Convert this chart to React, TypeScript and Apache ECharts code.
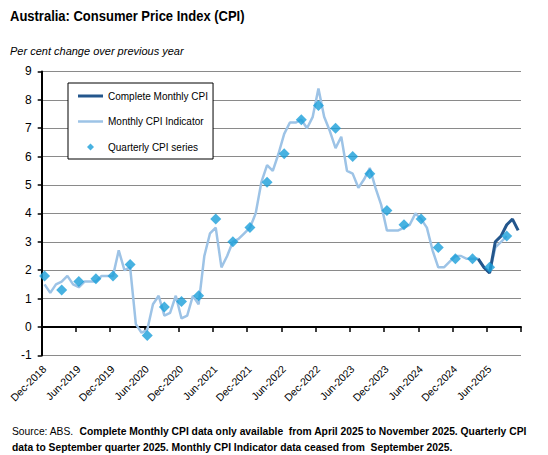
import React, { useEffect, useRef } from "react";
import * as echarts from "echarts";

const MONTH_NAMES = ["Jan", "Feb", "Mar", "Apr", "May", "Jun", "Jul", "Aug", "Sep", "Oct", "Nov", "Dec"];
const FIRST_YEAR = 2018;
const FIRST_MONTH = 11; // December
const MONTH_COUNT = 84; // Dec-2018 .. Nov-2025

const categories: string[] = [];
for (let k = 0; k < MONTH_COUNT; k++) {
  const m = (FIRST_MONTH + k) % 12;
  const y = FIRST_YEAR + Math.floor((FIRST_MONTH + k) / 12);
  categories.push(`${MONTH_NAMES[m]}-${y}`);
}

// Monthly CPI Indicator, Dec-2018 .. Sep-2025
const indicatorValues = [
  1.5, 1.2, 1.5, 1.6, 1.8, 1.5, 1.4, 1.6, 1.6, 1.6, 1.8, 1.8,
  1.8, 2.7, 2.0, 2.1, 0.1, -0.2, -0.1, 0.8, 1.1, 0.4, 0.5, 1.1,
  0.3, 0.4, 1.1, 0.8, 2.5, 3.3, 3.5, 2.1, 2.5, 3.0, 3.1, 3.3,
  3.5, 4.0, 5.1, 5.7, 5.5, 6.1, 6.8, 7.2, 7.2, 7.3, 7.0, 7.4,
  8.4, 7.4, 6.9, 6.3, 6.7, 5.5, 5.4, 4.9, 5.2, 5.6, 4.9, 4.3,
  3.4, 3.4, 3.4, 3.5, 3.6, 4.0, 3.8, 3.5, 2.7, 2.1, 2.1, 2.3,
  2.5, 2.5, 2.4, 2.4, 2.4, 2.1, 1.9, 2.8, 3.0, 3.2,
];

// Complete Monthly CPI, Apr-2025 .. Nov-2025
const completeStart = "Apr-2025";
const completeValues = [2.4, 2.1, 1.9, 3.0, 3.2, 3.6, 3.8, 3.4];

// Quarterly CPI series
const quarterLabels = [
  "Dec-2018", "Mar-2019", "Jun-2019", "Sep-2019", "Dec-2019", "Mar-2020", "Jun-2020",
  "Sep-2020", "Dec-2020", "Mar-2021", "Jun-2021", "Sep-2021", "Dec-2021", "Mar-2022",
  "Jun-2022", "Sep-2022", "Dec-2022", "Mar-2023", "Jun-2023", "Sep-2023", "Dec-2023",
  "Mar-2024", "Jun-2024", "Sep-2024", "Dec-2024", "Mar-2025", "Jun-2025", "Sep-2025",
];
const quarterValues = [
  1.8, 1.3, 1.6, 1.7, 1.8, 2.2, -0.3,
  0.7, 0.9, 1.1, 3.8, 3.0, 3.5, 5.1,
  6.1, 7.3, 7.8, 7.0, 6.0, 5.4, 4.1,
  3.6, 3.8, 2.8, 2.4, 2.4, 2.1, 3.2,
];

const yTicks = { min: -1, max: 9, interval: 1 };

const TITLE = "Australia: Consumer Price Index (CPI)";
const SUBTITLE = "Per cent change over previous year";
const NOTE_SOURCE = "Source: ABS.  ";
const NOTE_LINE1 = "Complete Monthly CPI data only available  from April 2025 to November 2025. Quarterly CPI";
const NOTE_LINE2 = "data to September quarter 2025. Monthly CPI Indicator data ceased from  September 2025.";

const SANS = "'Liberation Sans', Arial, sans-serif";

// legend icons (the leading moves fix the icon box to 25x8 so shapes are not stretched)
const ICON_DARK = "path://M0,0M25,8M0,2.5L25,2.5L25,5.5L0,5.5Z";
const ICON_LIGHT = "path://M0,0M25,8M0,2.75L25,2.75L25,5.25L0,5.25Z";
const ICON_DIAMOND = "path://M0,0M25,8M12.5,0.5L16,4L12.5,7.5L9,4Z";

export default function App() {
  const ref = useRef<HTMLDivElement>(null);

  useEffect(() => {
    if (!ref.current) return;
    const chart = echarts.init(ref.current, undefined, { renderer: "svg" });

    const indicatorData = categories.map((_, i) => (i < indicatorValues.length ? indicatorValues[i] : null));
    const cStart = categories.indexOf(completeStart);
    const completeData = categories.map((_, i) =>
      i >= cStart && i < cStart + completeValues.length ? completeValues[i - cStart] : null
    );
    const quarterData = quarterLabels.map((l, i) => [l, quarterValues[i]]);

    chart.setOption({
      animation: false,
      backgroundColor: "#fff",
      grid: { left: 41.7, right: 27, top: 71.4, bottom: 99.6, containLabel: false },
      legend: {
        orient: "vertical",
        left: 68,
        top: 83,
        padding: [8, 5, 7, 10],
        itemGap: 15.5,
        itemWidth: 25,
        itemHeight: 8,
        backgroundColor: "#fff",
        borderColor: "#000",
        borderWidth: 1,
        textStyle: { fontSize: 10, color: "#000", fontFamily: SANS },
        data: [
          { name: "Complete Monthly CPI", icon: ICON_DARK },
          { name: "Monthly CPI Indicator", icon: ICON_LIGHT },
          { name: "Quarterly CPI series", icon: ICON_DIAMOND },
        ],
      },
      xAxis: [
        {
          type: "category",
          data: categories,
          boundaryGap: true,
          position: "bottom",
          axisLine: { show: false, onZero: false },
          axisTick: { show: false },
          splitLine: { show: false },
          axisLabel: {
            interval: 5,
            rotate: 45,
            fontSize: 10.5,
            color: "#000",
            margin: 12,
            fontFamily: SANS,
          },
        },
        {
          type: "category",
          data: categories,
          boundaryGap: true,
          position: "bottom",
          axisLine: { show: true, onZero: true, lineStyle: { color: "#000", width: 2 } },
          axisTick: { show: true, interval: 5, length: 5, lineStyle: { color: "#000", width: 1.5 } },
          axisLabel: { show: false },
          splitLine: { show: false },
        },
      ],
      yAxis: {
        type: "value",
        min: yTicks.min,
        max: yTicks.max,
        interval: yTicks.interval,
        axisLine: { show: true, onZero: false, lineStyle: { color: "#000", width: 2 } },
        axisTick: { show: true, length: 4, lineStyle: { color: "#000", width: 1.5 } },
        splitLine: { show: true, lineStyle: { color: "#8a8a8a", width: 1 } },
        axisLabel: { fontSize: 12, color: "#000", margin: 10, fontFamily: SANS },
      },
      series: [
        {
          name: "Monthly CPI Indicator",
          type: "line",
          xAxisIndex: 0,
          data: indicatorData,
          symbol: "none",
          lineStyle: { color: "#9dc3e6", width: 2.5 },
          itemStyle: { color: "#9dc3e6" },
          z: 2,
        },
        {
          name: "Complete Monthly CPI",
          type: "line",
          xAxisIndex: 0,
          data: completeData,
          symbol: "none",
          lineStyle: { color: "#23568c", width: 3 },
          itemStyle: { color: "#23568c" },
          z: 3,
        },
        {
          name: "Quarterly CPI series",
          type: "scatter",
          xAxisIndex: 0,
          data: quarterData,
          symbol: "diamond",
          symbolSize: 11,
          itemStyle: { color: "#1a9fd9" },
          z: 4,
        },
      ],
      graphic: [
        {
          type: "text",
          x: 10,
          y: 15.5,
          scaleX: 0.867,
          style: {
            text: TITLE,
            fill: "#000",
            font: `bold 15px ${SANS}`,
            align: "left",
            verticalAlign: "middle",
          },
        },
        {
          type: "text",
          x: 10,
          y: 50.5,
          style: {
            text: SUBTITLE,
            fill: "#000",
            font: `italic 11px ${SANS}`,
            align: "left",
            verticalAlign: "middle",
          },
        },
        {
          type: "text",
          x: 12,
          y: 431.3,
          scaleX: 0.981,
          style: {
            text: `{a|${NOTE_SOURCE}}{b|${NOTE_LINE1}}`,
            align: "left",
            verticalAlign: "middle",
            rich: {
              a: { font: `10.5px ${SANS}`, fill: "#000" },
              b: { font: `bold 10.5px ${SANS}`, fill: "#000" },
            },
          },
        },
        {
          type: "text",
          x: 12,
          y: 447,
          scaleX: 0.981,
          style: {
            text: NOTE_LINE2,
            fill: "#000",
            font: `bold 10.5px ${SANS}`,
            align: "left",
            verticalAlign: "middle",
          },
        },
      ],
    });

    return () => chart.dispose();
  }, []);

  return (
    <div
      ref={ref}
      style={{ position: "fixed", left: 0, top: 0, width: 548, height: 455, background: "#fff" }}
    />
  );
}
